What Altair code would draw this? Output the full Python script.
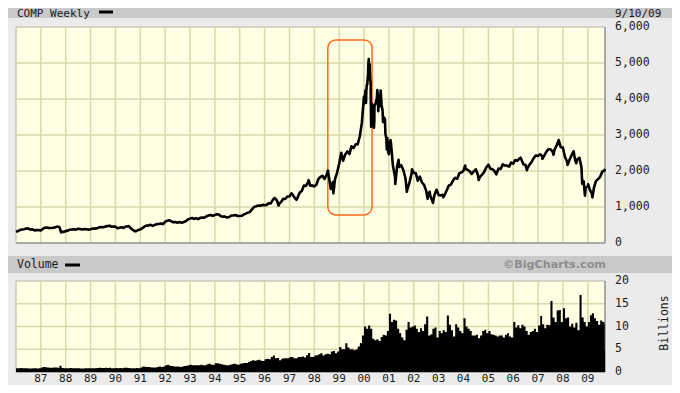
import altair as alt
import pandas as pd

# ---------------- data ----------------
START, END = "1986-01-01", "2009-09-10"

# Month-end closes, Jan 1986 .. Dec 1997
price_close_86_97 = [
    335, 359, 375, 383, 400, 405, 371, 381, 350, 360, 359, 349,
    392, 424, 430, 418, 416, 424, 434, 454, 444, 323, 305, 330,
    344, 367, 374, 379, 371, 394, 387, 377, 387, 382, 372, 381,
    401, 399, 406, 428, 446, 435, 453, 469, 472, 456, 456, 454,
    410, 425, 435, 420, 459, 462, 438, 381, 344, 329, 359, 374,
    414, 453, 482, 484, 506, 475, 502, 525, 527, 543, 523, 586,
    620, 633, 603, 578, 585, 563, 581, 563, 583, 605, 652, 677,
    696, 670, 690, 661, 700, 704, 705, 743, 763, 779, 754, 777,
    800, 793, 743, 733, 735, 706, 722, 765, 764, 777, 750, 752,
    755, 793, 817, 843, 864, 933, 1001, 1020, 1044, 1036, 1059, 1052,
    1060, 1100, 1101, 1191, 1243, 1185, 1081, 1141, 1227, 1222, 1293, 1291,
    1380, 1309, 1222, 1261, 1400, 1443, 1594, 1587, 1686, 1594, 1601, 1570,
]
# Month-end closes, Jan 1998 .. Aug 2009
price_close_98_09 = [
    1619, 1771, 1835, 1868, 1779, 1895, 1872, 1499, 1694, 1771, 1950, 2193,
    2505, 2288, 2461, 2543, 2471, 2686, 2638, 2739, 2746, 2966, 3336, 4069,
    3940, 4697, 4573, 3861, 3401, 3966, 3767, 4206, 3673, 3370, 2598, 2471,
    2773, 2152, 1840, 2116, 2110, 2161, 2027, 1805, 1499, 1690, 1931, 1950,
    1934, 1731, 1845, 1688, 1616, 1463, 1328, 1315, 1172, 1330, 1479, 1336,
    1321, 1338, 1341, 1464, 1596, 1623, 1735, 1810, 1787, 1932, 1960, 2003,
    2066, 2030, 1994, 1920, 1987, 2048, 1887, 1838, 1897, 1975, 2097, 2175,
    2062, 2052, 1999, 1922, 2068, 2057, 2185, 2152, 2152, 2120, 2233, 2205,
    2306, 2281, 2340, 2323, 2179, 2172, 2091, 2184, 2258, 2367, 2432, 2415,
    2464, 2416, 2422, 2525, 2605, 2603, 2546, 2596, 2702, 2859, 2661, 2652,
    2389, 2271, 2279, 2413, 2523, 2293, 2326, 2368, 2092, 1721, 1536, 1577,
    1476, 1377, 1529, 1717, 1774, 1835, 1979, 2009,
]
edge_dates = ["1986-01-01", "2009-09-10"]
edge_close = [310, 2060]

# Weekly detail around the 2000 peak
week_2000_dates = [
    "2000-01-07", "2000-01-14", "2000-01-21", "2000-01-28", "2000-02-04", "2000-02-11",
    "2000-02-18", "2000-02-25", "2000-03-03", "2000-03-10", "2000-03-17", "2000-03-24",
    "2000-04-07", "2000-04-14", "2000-04-21", "2000-04-28", "2000-05-05", "2000-05-12",
    "2000-05-19", "2000-05-26", "2000-06-02", "2000-06-16", "2000-07-07", "2000-07-14",
    "2000-07-21", "2000-07-28", "2000-08-11", "2000-08-25", "2000-09-01", "2000-09-15",
    "2000-10-06", "2000-10-20", "2000-11-03", "2000-11-10", "2000-11-24", "2000-12-08",
    "2000-12-22",
]
week_2000_close = [
    3882, 4064, 4235, 3887, 4244, 4395,
    4411, 4590, 4914, 5110, 4798, 4963,
    4446, 3227, 3643, 3860, 3816, 3529,
    3390, 3205, 3813, 3860, 4023, 4246,
    4095, 3663, 3789, 4042, 4234, 3835,
    3361, 3483, 3451, 3028, 2904, 2917,
    2517,
]

# Swing highs / lows visible in the weekly line
swing_dates = [
    "1987-08-26", "1987-10-28", "1989-10-09", "1990-07-16", "1990-10-16",
    "1996-05-24", "1996-07-24", "1997-04-14", "1997-10-09", "1998-07-20",
    "1998-10-08", "2001-01-24", "2001-04-04", "2001-05-22", "2001-09-21",
    "2001-12-05", "2002-07-23", "2002-08-22", "2002-10-09", "2002-12-02",
    "2003-03-11", "2004-01-26", "2004-08-12", "2005-04-28", "2006-04-19",
    "2006-07-21", "2007-03-05", "2007-08-16", "2007-10-31", "2008-03-10",
    "2008-06-05", "2008-07-15", "2008-10-10", "2008-11-20", "2009-01-06",
    "2009-03-09",
]
swing_values = [
    455, 292, 485, 469, 325,
    1250, 1042, 1201, 1745, 2014,
    1380, 2859, 1638, 2313, 1423,
    2046, 1229, 1423, 1114, 1478,
    1271, 2153, 1752, 1904, 2370,
    2020, 2340, 2451, 2859, 2169,
    2549, 2215, 1649, 1316, 1628,
    1268,
]

# Weekly volume (billions), one value per month, Jan 1986 .. Dec 1997
vol_86_97 = [
    0.8, 0.85, 0.9, 0.85, 0.8, 0.8, 0.75, 0.75, 0.8, 0.8, 0.75, 0.8,
    1.0, 1.1, 1.05, 1.0, 0.95, 0.95, 1.0, 1.0, 0.95, 1.4, 0.9, 0.85,
    0.8, 0.85, 0.9, 0.85, 0.8, 0.85, 0.8, 0.75, 0.75, 0.8, 0.8, 0.8,
    0.85, 0.85, 0.85, 0.9, 0.95, 0.9, 0.9, 0.95, 0.9, 0.95, 0.85, 0.85,
    0.9, 0.85, 0.9, 0.85, 0.95, 0.95, 0.9, 0.85, 0.8, 0.85, 0.9, 0.85,
    1.0, 1.2, 1.15, 1.1, 1.1, 1.0, 1.0, 1.0, 1.1, 1.2, 1.1, 1.2,
    1.5, 1.6, 1.4, 1.3, 1.2, 1.2, 1.2, 1.1, 1.2, 1.3, 1.4, 1.5,
    1.6, 1.5, 1.5, 1.5, 1.5, 1.6, 1.5, 1.5, 1.7, 1.8, 1.6, 1.6,
    1.9, 1.9, 1.8, 1.7, 1.6, 1.5, 1.5, 1.6, 1.7, 1.8, 1.7, 1.6,
    1.8, 1.9, 2.0, 2.0, 2.2, 2.4, 2.6, 2.5, 2.6, 2.7, 2.5, 2.4,
    2.8, 2.9, 2.8, 3.3, 3.6, 3.0, 3.1, 2.6, 2.9, 3.0, 3.0, 3.0,
    3.3, 3.3, 3.0, 3.0, 3.3, 3.3, 3.4, 3.2, 3.7, 4.2, 3.3, 3.3,
]
# Jan 1998 .. Aug 2009
vol_98_09 = [
    3.6, 3.7, 3.9, 4.1, 3.6, 3.9, 4.0, 3.9, 4.5, 4.6, 4.1, 4.5,
    5.5, 5.0, 5.0, 6.3, 5.4, 5.0, 5.0, 4.8, 5.0, 5.6, 6.4, 8.0,
    10.0, 9.5, 10.2, 9.5, 7.3, 7.0, 7.2, 6.8, 7.7, 8.2, 8.0, 9.0,
    12.8, 11.0, 11.5, 11.3, 9.5, 8.5, 7.6, 7.0, 9.3, 11.0, 9.8, 10.0,
    10.2, 9.5, 8.8, 9.6, 9.0, 10.5, 12.2, 8.0, 8.3, 9.5, 9.8, 7.6,
    9.0, 8.5, 9.2, 8.8, 12.4, 10.4, 9.2, 7.8, 10.5, 9.8, 9.0, 8.5,
    11.8, 10.0, 9.5, 9.0, 8.0, 8.0, 8.2, 7.4, 8.0, 9.0, 9.3, 8.5,
    9.0, 8.3, 8.2, 8.0, 7.8, 8.0, 8.0, 7.6, 8.2, 8.5, 7.8, 7.6,
    11.0, 9.8, 10.3, 9.6, 10.4, 10.0, 9.0, 8.2, 8.8, 9.0, 9.5, 8.8,
    10.2, 12.3, 10.5, 9.6, 10.4, 10.3, 15.6, 12.0, 11.0, 13.5, 13.6, 11.0,
    14.0, 11.8, 12.0, 10.0, 10.6, 9.8, 10.8, 9.2, 16.9, 12.0, 11.0, 10.0,
    11.0, 12.5, 12.9, 11.8, 11.2, 10.4, 11.3, 11.0,
]
vol_tail_dates = ["2009-09-01", "2009-09-07", "2009-09-10"]
vol_tail = [10.5, 4.8, 4.8]

year_dates = [f"{y}-01-01" for y in range(1987, 2010)]
year_labels = ["87", "88", "89", "90", "91", "92", "93", "94", "95", "96", "97", "98",
               "99", "00", "01", "02", "03", "04", "05", "06", "07", "08", "09"]
price_ticks = [0, 1000, 2000, 3000, 4000, 5000, 6000]
price_tick_labels = ["0", "1,000", "2,000", "3,000", "4,000", "5,000", "6,000"]
vol_ticks = [0, 5, 10, 15, 20]
vol_tick_labels = ["0", "5", "10", "15", "20"]

# highlighted window (orange rounded box)
box_dates = ["1998-07-18", "2000-04-28"]
box_values = [780, 5640]

# ---------------- tables ----------------
month_ends = (pd.date_range("1986-02-01", periods=284, freq="MS") - pd.Timedelta(days=1)).strftime("%Y-%m-%d")
price_df = pd.DataFrame({
    "date": list(month_ends) + week_2000_dates + swing_dates + edge_dates,
    "close": price_close_86_97 + price_close_98_09 + week_2000_close + swing_values + edge_close,
}).sort_values("date")

month_starts = pd.date_range("1986-01-01", periods=284, freq="MS").strftime("%Y-%m-%d")
vol_df = pd.DataFrame({"date": list(month_starts) + vol_tail_dates,
                       "vol": vol_86_97 + vol_98_09 + vol_tail})

panel_df = pd.DataFrame({"x0": [START], "x1": [END], "p0": [0], "p1": [6000], "v0": [0], "v1": [20]})
grid_df = pd.DataFrame({"date": year_dates, "label": year_labels, "p0": 0, "p1": 6000, "v0": 0, "v1": 20})
pgrid_df = pd.DataFrame({"v": price_ticks, "label": price_tick_labels, "x0": START, "x1": END})
vgrid_df = pd.DataFrame({"v": vol_ticks, "label": vol_tick_labels, "x0": START, "x1": END})
box_df = pd.DataFrame({"x0": [box_dates[0]], "x1": [box_dates[1]], "y0": [box_values[0]], "y1": [box_values[1]]})
one = pd.DataFrame({"k": [0]})

# ---------------- styling ----------------
MONO = "DejaVu Sans Mono"
SANS = "DejaVu Sans"
BG = "#ebebeb"
BAR = "#c9c9c9"
PANEL = "#ffffe3"
GRID = "#d9d9ad"
EDGE = "#b4b4a0"
INK = "#1a1a1a"

XS = alt.Scale(domain=[alt.DateTime(year=1986, month=1, date=1, utc=True),
                       alt.DateTime(year=2009, month=9, date=10, utc=True)],
               range=[8, 597], nice=False)
PS = alt.Scale(domain=[0, 6000], range=[235, 19], nice=False, zero=False)
VS = alt.Scale(domain=[0, 20], range=[364, 273], nice=False, zero=False)


def X(f):
    return alt.X(f, type="temporal", scale=XS, axis=None)


def PY(f):
    return alt.Y(f, type="quantitative", scale=PS, axis=None)


def VY(f):
    return alt.Y(f, type="quantitative", scale=VS, axis=None)


def box(x0, x1, y0, y1, color):
    return alt.Chart(one).mark_rect(color=color).encode(
        x=alt.value(x0), x2=alt.value(x1), y=alt.value(y0), y2=alt.value(y1))


def label(txt, x, y, align="left", **kw):
    props = dict(font=MONO, fontSize=11.5, color=INK)
    props.update(kw)
    return alt.Chart(one).mark_text(text=txt, align=align, baseline="middle", **props).encode(
        x=alt.value(x), y=alt.value(y))


layers = [
    box(-10, 670, -10, 10, BAR),
    box(-10, 670, 248, 265, BAR),
    # panels
    alt.Chart(panel_df).mark_rect(fill=PANEL, stroke=EDGE, strokeWidth=1).encode(
        x=X("x0"), x2="x1", y=PY("p0"), y2="p1"),
    alt.Chart(panel_df).mark_rect(fill=PANEL, stroke=EDGE, strokeWidth=1).encode(
        x=X("x0"), x2="x1", y=VY("v0"), y2="v1"),
    # grids
    alt.Chart(grid_df).mark_rule(color=GRID, strokeWidth=1.5).encode(x=X("date"), y=PY("p0"), y2="p1"),
    alt.Chart(grid_df).mark_rule(color=GRID, strokeWidth=1.5).encode(x=X("date"), y=VY("v0"), y2="v1"),
    alt.Chart(pgrid_df[(pgrid_df.v > 0) & (pgrid_df.v < 6000)]).mark_rule(color=GRID, strokeWidth=1.5).encode(
        x=X("x0"), x2="x1", y=PY("v")),
    alt.Chart(vgrid_df[(vgrid_df.v > 0) & (vgrid_df.v < 20)]).mark_rule(color=GRID, strokeWidth=1.5).encode(
        x=X("x0"), x2="x1", y=VY("v")),
    # panel shadow edges (bottom / right)
    alt.Chart(panel_df).mark_rule(color="#9a9a9a", strokeWidth=1.5).encode(x=X("x0"), x2="x1", y=PY("p0")),
    alt.Chart(panel_df).mark_rule(color="#9a9a9a", strokeWidth=1.5).encode(x=X("x1"), y=PY("p0"), y2="p1"),
    alt.Chart(panel_df).mark_rule(color="#9a9a9a", strokeWidth=1.5).encode(x=X("x0"), x2="x1", y=VY("v0")),
    alt.Chart(panel_df).mark_rule(color="#9a9a9a", strokeWidth=1.5).encode(x=X("x1"), y=VY("v0"), y2="v1"),
    # highlight box
    alt.Chart(box_df).mark_rect(fill="transparent", stroke="#ff6a1c", strokeWidth=1.5, cornerRadius=8).encode(
        x=X("x0"), x2="x1", y=PY("y0"), y2="y1"),
    # price line
    alt.Chart(price_df).mark_line(color="black", strokeWidth=2.6, strokeJoin="round").encode(
        x=X("date"), y=PY("close")),
    # volume
    alt.Chart(vol_df).mark_area(color="black", interpolate="step-after").encode(
        x=X("date"), y=VY("vol")),
    # tick labels
    alt.Chart(grid_df).mark_text(font=MONO, fontSize=11, color=INK, align="center", baseline="middle").encode(
        x=X("date"), y=alt.value(370.5), text="label:N"),
    alt.Chart(pgrid_df).mark_text(font=MONO, fontSize=11.5, color=INK, align="left", baseline="middle").encode(
        x=alt.value(607), y=PY("v"), text="label:N"),
    alt.Chart(vgrid_df).mark_text(font=MONO, fontSize=11.5, color=INK, align="left", baseline="middle").encode(
        x=alt.value(607), y=VY("v"), text="label:N"),
    # header texts
    label("COMP Weekly", 9, 6, fontSize=11),
    box(91, 105, 2.5, 5.5, "black"),
    label("9/10/09", 607, 6, fontSize=11),
    label("Volume", 9, 257),
    box(57, 72, 255.5, 258.5, "black"),
    label("\u00a9BigCharts.com", 598, 257, align="right", font=SANS, fontSize=11.2,
          fontWeight="bold", color="#8c8c8c"),
    label("Billions", 657, 315, align="center", angle=270),
]

chart = alt.layer(*layers).resolve_scale(y="independent").properties(
    width=664, height=377, padding=0, autosize=alt.AutoSizeParams(type="none")
).configure_view(fill=BG, strokeWidth=0)

chart.save("out.html", embed_options={"renderer": "svg", "actions": False})
